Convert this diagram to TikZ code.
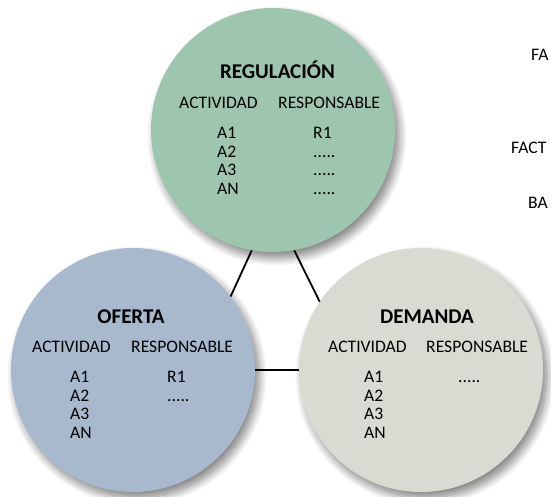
\documentclass[tikz,border=0pt]{standalone}
\usepackage{fontspec}
\setmainfont{Carlito}
\usetikzlibrary{shadows.blur}
\definecolor{regc}{HTML}{9EC6AE}
\definecolor{ofec}{HTML}{A8B9CE}
\definecolor{demc}{HTML}{DADAD2}
\tikzset{
  bubble/.style={circle, minimum size=244pt, inner sep=0pt, draw=none,
    blur shadow={shadow xshift=4pt, shadow yshift=-6pt, shadow blur radius=8pt, shadow opacity=50, shadow blur steps=12}},
  txt/.style={inner sep=0pt, anchor=base west, font=\fontsize{17.6}{18.7}\selectfont, text=black},
  ttl/.style={inner sep=0pt, anchor=base, font=\fontsize{21}{22}\selectfont\bfseries, text=black},
  link/.style={line width=1.8pt, black}
}
\begin{document}
\begin{tikzpicture}[x=1pt, y=-1pt]
\useasboundingbox (0,0) rectangle (551,496);
% circles
\node[bubble, fill=regc] (reg) at (273,130) {};
\node[bubble, fill=ofec] (ofe) at (133,370) {};
\node[bubble, fill=demc] (dem) at (421,370) {};
% connectors
\draw[link] (reg.260) -- (ofe.37);
\draw[link] (reg.280) -- (dem.146);
\draw[link] (ofe.east) -- (dem.west);
% REGULACION
\node[ttl] (regT) at (277.5,78) {REGULACIÓN};
\node[txt] (regH1) at (179,108.5) {ACTIVIDAD};
\node[txt] (regH2) at (278,108.5) {RESPONSABLE};
\foreach \t [count=\i] in {A1,A2,A3,AN}
  \node[txt] (regA\i) at (217,{138.5+18.7*(\i-1)}) {\t};
\node[txt] (regR1) at (313,138.5) {R1};
\foreach \i in {2,3,4}
  \node[txt] (regR\i) at (313,{138.5+18.7*(\i-1)}) {.....};
% OFERTA
\node[ttl] (ofeT) at (131,323) {OFERTA};
\node[txt] (ofeH1) at (32,352.5) {ACTIVIDAD};
\node[txt] (ofeH2) at (131,352.5) {RESPONSABLE};
\foreach \t [count=\i] in {A1,A2,A3,AN}
  \node[txt] (ofeA\i) at (70,{382.5+18.7*(\i-1)}) {\t};
\node[txt] (ofeR1) at (167,382.5) {R1};
\node[txt] (ofeR2) at (167,401.2) {.....};
% DEMANDA
\node[ttl] (demT) at (427,323) {DEMANDA};
\node[txt] (demH1) at (328,352.5) {ACTIVIDAD};
\node[txt] (demH2) at (426,352.5) {RESPONSABLE};
\foreach \t [count=\i] in {A1,A2,A3,AN}
  \node[txt] (demA\i) at (364,{382.5+18.7*(\i-1)}) {\t};
\node[txt] (demR1) at (458,382.5) {.....};
% clipped labels on the right
\node[txt] (fa) at (531,60.5) {FA};
\node[txt] (fact) at (511,153.5) {FACT};
\node[txt] (ba) at (528,208.5) {BA};
\end{tikzpicture}
\end{document}
